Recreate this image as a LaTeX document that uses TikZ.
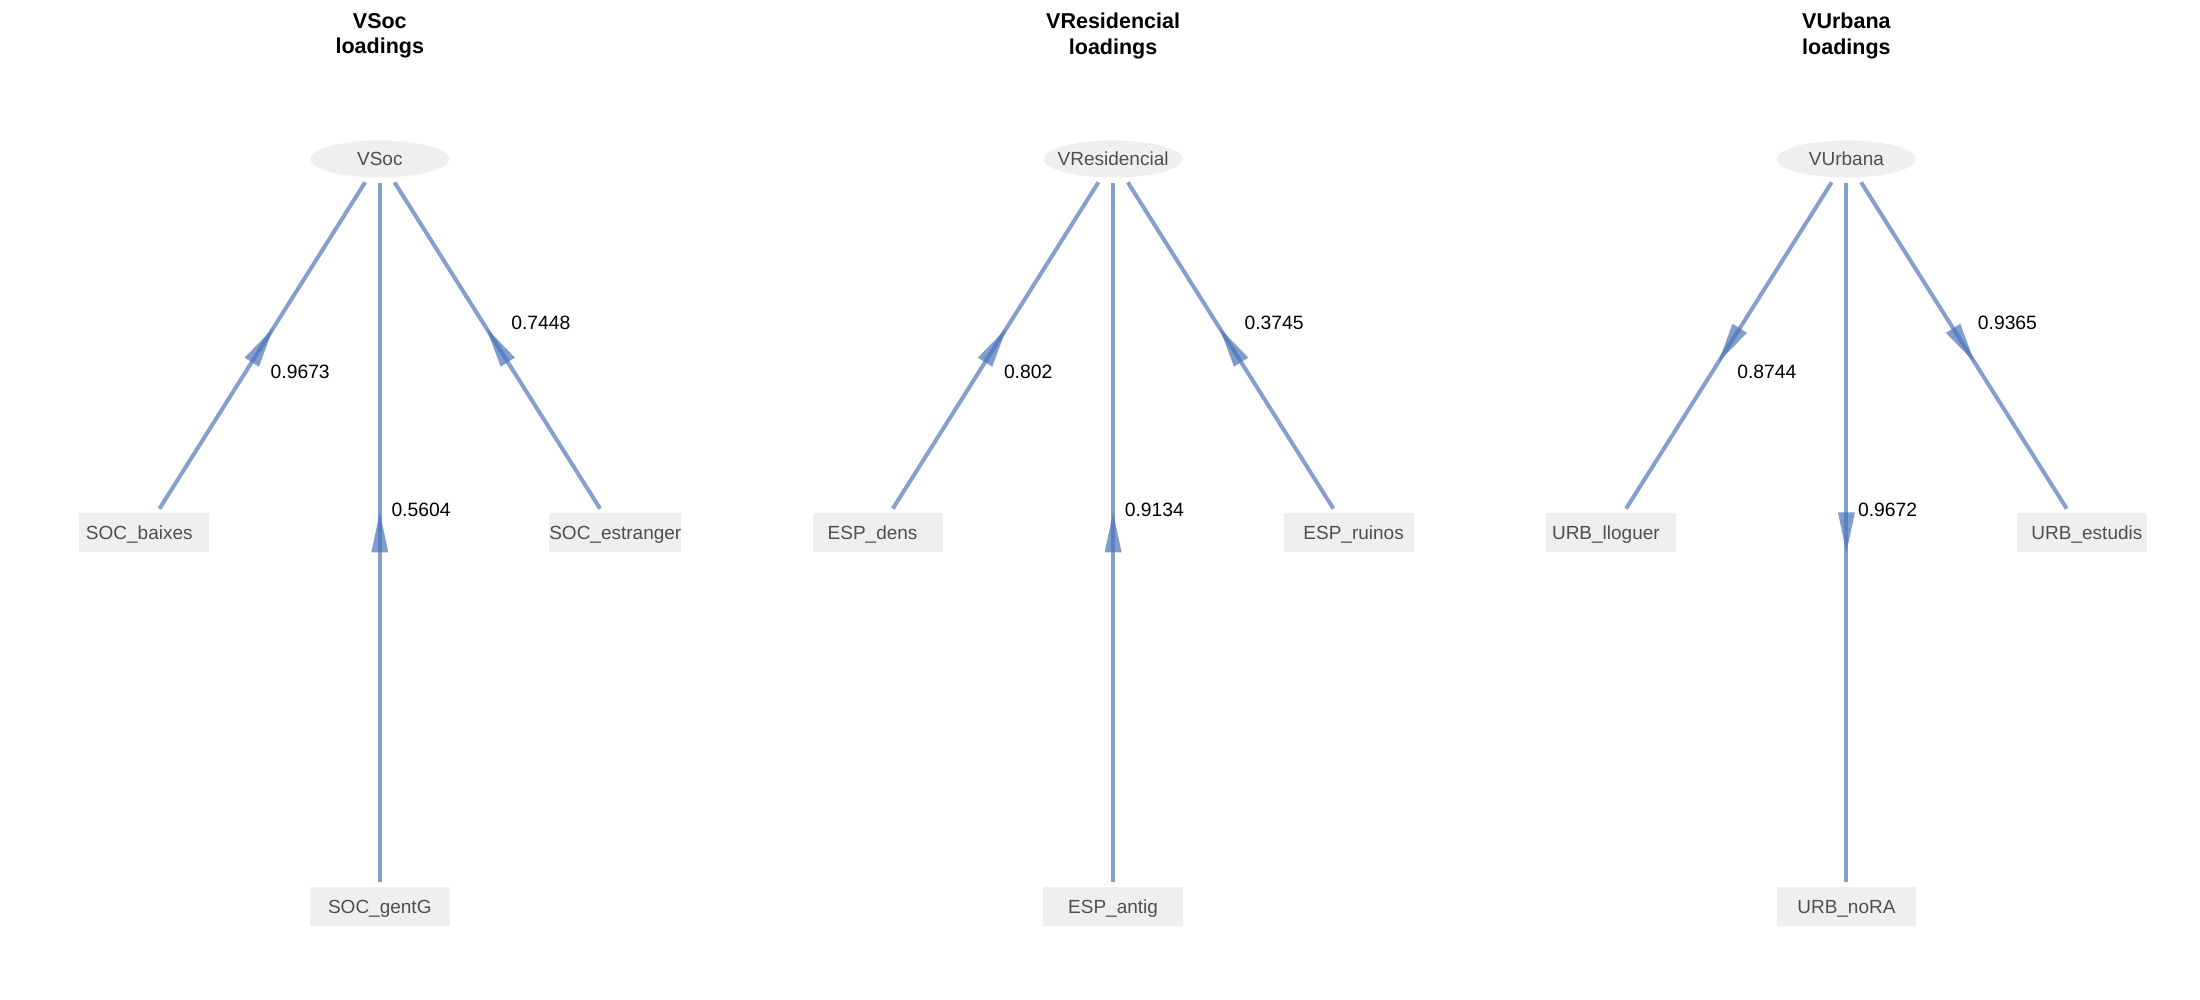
\documentclass[tikz,border=0pt]{standalone}
\usepackage{fontspec}
\setmainfont{Liberation Sans}
\usetikzlibrary{shapes.geometric,decorations.markings}
\definecolor{edgeblue}{HTML}{4C74BA}
\definecolor{nodefill}{HTML}{EFEFEF}
\definecolor{nodetext}{HTML}{4F4F4F}
\tikzset{
  latent/.style={ellipse, fill=nodefill, minimum width=139pt, minimum height=37pt,
    inner sep=0pt, outer sep=0pt, text=nodetext, font=\fontsize{19}{23}\selectfont,
    text height=13.6pt, text depth=0pt},
  manifest/.style={rectangle, fill=nodefill, minimum width=130pt, minimum height=39pt,
    inner sep=0pt, outer sep=0pt, text=nodetext, font=\fontsize{19}{23}\selectfont,
    text height=13.6pt, text depth=0pt},
  wide/.style={minimum width=139.5pt, minimum height=38.4pt},
  tl/.style={execute at begin node={\kern-10pt}},
  tr/.style={execute at end node={\kern-10pt}},
  load/.style={anchor=west, inner sep=0pt, text=black,
    font=\fontsize{19.3}{23}\selectfont, text height=13.8pt, text depth=0pt},
  ttl/.style={anchor=north, align=center, inner sep=0pt, text=black,
    font=\bfseries\fontsize{21.5}{25.7}\selectfont},
  edge line/.style={draw=edgeblue, draw opacity=0.68, line width=4pt,
    shorten <=6pt, shorten >=5.5pt},
  headin/.style={postaction={decorate}, decoration={markings,
    mark=at position 0.5 with {\fill[edgeblue, fill opacity=0.7, shorten <=0pt, shorten >=0pt]
      (-20pt,0pt) -- (20pt,8.5pt) -- (20pt,-8.5pt) -- cycle;}}},
  headout/.style={postaction={decorate}, decoration={markings,
    mark=at position 0.5 with {\fill[edgeblue, fill opacity=0.7, shorten <=0pt, shorten >=0pt]
      (20pt,0pt) -- (-20pt,8.5pt) -- (-20pt,-8.5pt) -- cycle;}}}
}
\begin{document}
\begin{tikzpicture}[x=1pt,y=-1pt]
\fill[white] (0,0) rectangle (2200,1000);
\useasboundingbox (0,0) rectangle (2200,1000);

% ---- Panel 1: VSoc ----
\node[ttl] (t1) at (379.8,12.8) {VSoc\\loadings};
\node[latent] (VSoc) at (379.8,159) {\makebox[0pt]{VSoc}};
\node[manifest,tl] (soc1) at (144.3,532.8) {SOC\_baixes};
\node[manifest,wide] (soc2) at (379.8,906.5) {SOC\_gentG};
\node[manifest] (soc3) at (615.3,532.8) {SOC\_estranger};
\draw[edge line, headin] (VSoc) -- (soc1);
\draw[edge line, headin] (VSoc) -- (soc2);
\draw[edge line, headin] (VSoc) -- (soc3);
\node[load] (l11) at (270.5,371.5) {0.9673};
\node[load] (l12) at (391.3,509.5) {0.5604};
\node[load] (l13) at (511.1,322.5) {0.7448};

% ---- Panel 2: VResidencial ----
\node[ttl] (t2) at (1113.1,12.8) {VResidencial\\loadings};
\node[latent] (VRes) at (1113.1,159) {\makebox[0pt]{VResidencial}};
\node[manifest,tl] (esp1) at (877.6,532.8) {ESP\_dens};
\node[manifest,wide] (esp2) at (1113.1,906.5) {ESP\_antig};
\node[manifest,tr] (esp3) at (1348.6,532.8) {ESP\_ruinos};
\draw[edge line, headin] (VRes) -- (esp1);
\draw[edge line, headin] (VRes) -- (esp2);
\draw[edge line, headin] (VRes) -- (esp3);
\node[load] (l21) at (1003.8,371.5) {0.802};
\node[load] (l22) at (1124.6,509.5) {0.9134};
\node[load] (l23) at (1244.4,322.5) {0.3745};

% ---- Panel 3: VUrbana ----
\node[ttl] (t3) at (1846.4,12.8) {VUrbana\\loadings};
\node[latent] (VUrb) at (1846.4,159) {\makebox[0pt]{VUrbana}};
\node[manifest,tl] (urb1) at (1610.9,532.8) {URB\_lloguer};
\node[manifest,wide] (urb2) at (1846.4,906.5) {URB\_noRA};
\node[manifest,tr] (urb3) at (2081.9,532.8) {URB\_estudis};
\draw[edge line, headout] (VUrb) -- (urb1);
\draw[edge line, headout] (VUrb) -- (urb2);
\draw[edge line, headout] (VUrb) -- (urb3);
\node[load] (l31) at (1737.1,371.5) {0.8744};
\node[load] (l32) at (1857.9,509.5) {0.9672};
\node[load] (l33) at (1977.7,322.5) {0.9365};
\end{tikzpicture}
\end{document}
